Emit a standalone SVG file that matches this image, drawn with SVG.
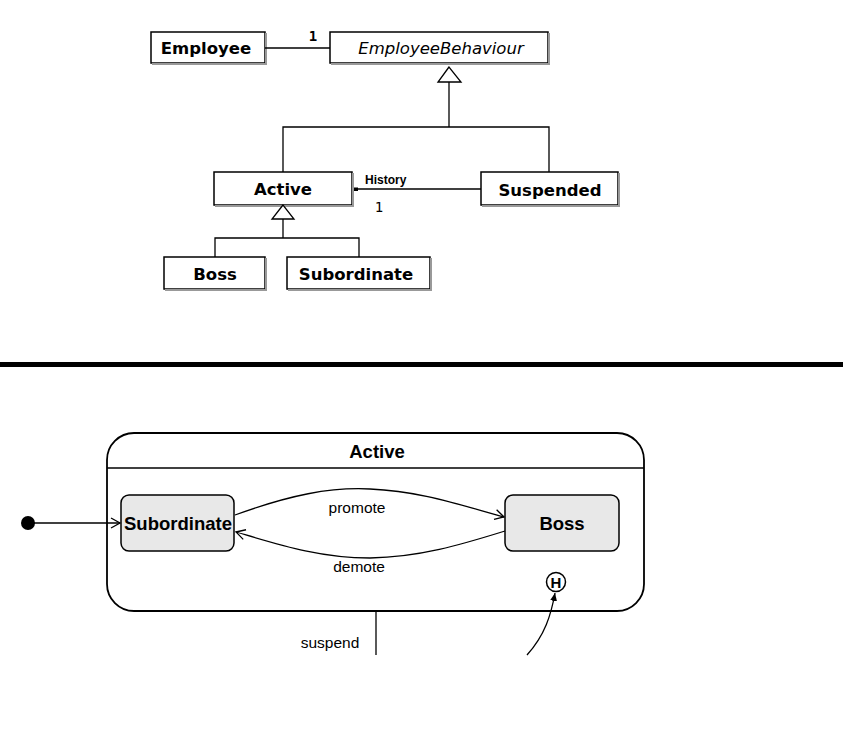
<svg xmlns="http://www.w3.org/2000/svg" width="843" height="756" viewBox="0 0 843 756">
<style>
.cls{fill:#fff;stroke:#000;stroke-width:1.5}
.shd{fill:none;stroke:#999;stroke-width:2}
.ln{fill:none;stroke:#000;stroke-width:1.3}
.ct{font-family:"DejaVu Sans",sans-serif;font-weight:bold;font-size:16.5px;text-anchor:middle;fill:#000}
.st{fill:#e8e8e8;stroke:#000;stroke-width:1.5}
.sl{font-family:"Liberation Sans",Arial,sans-serif;font-weight:bold;font-size:18.5px;text-anchor:middle;fill:#000}
.lb{font-family:"Liberation Sans",Arial,sans-serif;font-size:15.5px;fill:#000}
.tri{fill:#fff;stroke:#000;stroke-width:1.3}
</style>
<defs>
<marker id="open" markerWidth="12" markerHeight="12" refX="10" refY="6" orient="auto" markerUnits="userSpaceOnUse">
<path d="M1,1 L10,6 L1,11" fill="none" stroke="#000" stroke-width="1.3"/>
</marker>
<marker id="fill" markerWidth="10" markerHeight="10" refX="8" refY="5" orient="auto" markerUnits="userSpaceOnUse">
<path d="M0,1.5 L8,5 L0,8.5 Z" fill="#000"/>
</marker>
</defs>

<g id="employee">
<rect class="cls" x="151" y="32" width="114" height="31"/>
<polyline class="shd" points="266,33 266,64 152,64"/>
<text class="ct" x="206" y="54">Employee</text>
</g>
<g id="employeebehaviour">
<rect class="cls" x="330" y="32" width="218" height="31"/>
<polyline class="shd" points="549,33 549,64 331,64"/>
<text class="ct" x="441" y="54" font-style="italic" style="font-weight:normal">EmployeeBehaviour</text>
</g>
<g id="active-class">
<rect class="cls" x="214" y="172" width="138" height="33"/>
<polyline class="shd" points="353,173 353,206 215,206"/>
<text class="ct" x="283" y="195">Active</text>
</g>
<g id="suspended">
<rect class="cls" x="481" y="172" width="137" height="33"/>
<polyline class="shd" points="619,173 619,206 482,206"/>
<text class="ct" x="550" y="196">Suspended</text>
</g>
<g id="boss-class">
<rect class="cls" x="164" y="257" width="101" height="32"/>
<polyline class="shd" points="266,258 266,290 165,290"/>
<text class="ct" x="215" y="280">Boss</text>
</g>
<g id="subordinate-class">
<rect class="cls" x="287" y="257" width="143" height="32"/>
<polyline class="shd" points="431,258 431,290 288,290"/>
<text class="ct" x="356" y="280">Subordinate</text>
</g>

<g id="active-state">
<rect x="107" y="433" width="537" height="178" rx="27" fill="#fff" stroke="#000" stroke-width="1.8"/>
<line x1="107" y1="468" x2="644" y2="468" stroke="#000" stroke-width="1.5"/>
<text class="sl" x="377" y="458">Active</text>
</g>
<g id="initial">
<circle cx="28" cy="523" r="7" fill="#000"/>
</g>
<g id="subordinate-state">
<rect class="st" x="121" y="495" width="113" height="56" rx="8"/>
<text class="sl" x="178" y="530">Subordinate</text>
</g>
<g id="boss-state">
<rect class="st" x="505" y="495" width="114" height="56" rx="8"/>
<text class="sl" x="562" y="530">Boss</text>
</g>
<g id="history">
<circle cx="556" cy="582" r="9.5" fill="#fff" stroke="#000" stroke-width="1.5"/>
<text x="556" y="587.5" style="font-family:'Liberation Sans',Arial,sans-serif;font-weight:bold;font-size:15px;text-anchor:middle">H</text>
</g>

<g id="connectors">
<line class="ln" x1="265" y1="48" x2="330" y2="48"/>
<text x="313" y="41" style="font-family:'DejaVu Sans Mono',monospace;font-weight:bold;font-size:14px;text-anchor:middle">1</text>
<polyline class="ln" points="449,82 449,127"/>
<polyline class="ln" points="283,172 283,127 549,127 549,172"/>
<polygon class="tri" points="449,67 438,82 461,82"/>
<line class="ln" x1="355" y1="189" x2="481" y2="189"/>
<rect x="354" y="187.5" width="4" height="3.5" fill="#000"/>
<text x="365" y="184" style="font-family:'Liberation Sans',Arial,sans-serif;font-weight:bold;font-size:12px">History</text>
<text x="379" y="212" style="font-family:'DejaVu Sans Mono',monospace;font-size:14px;text-anchor:middle">1</text>
<polyline class="ln" points="283,219 283,238"/>
<polyline class="ln" points="215,257 215,238 359,238 359,257"/>
<polygon class="tri" points="283,205 272,219 294,219"/>

<line x1="0" y1="364.5" x2="843" y2="364.5" stroke="#000" stroke-width="5"/>

<line class="ln" x1="34" y1="523" x2="120" y2="523" marker-end="url(#open)"/>
<path class="ln" d="M235,515 C290,495 330,487 370,489 C420,491 460,505 504,517" marker-end="url(#open)"/>
<path class="ln" d="M505,531 C460,545 420,557 370,558 C320,558 280,545 236,532" marker-end="url(#open)"/>
<line class="ln" x1="376" y1="611" x2="376" y2="655"/>
<text class="lb" x="330" y="648" text-anchor="middle">suspend</text>
<path class="ln" d="M527,655 C545,635 551,615 555,593" marker-end="url(#fill)"/>
<text class="lb" x="357" y="513" text-anchor="middle">promote</text>
<text class="lb" x="359" y="572" text-anchor="middle">demote</text>
</g>
</svg>
